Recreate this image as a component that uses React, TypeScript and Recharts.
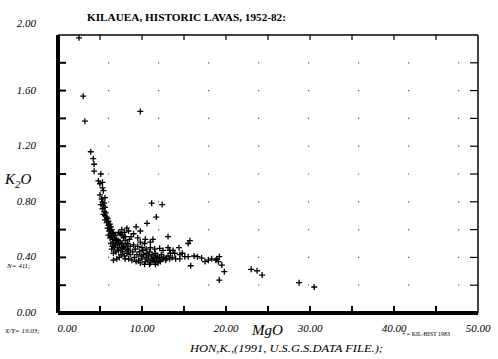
import React from 'react';
import { ScatterChart, Scatter, XAxis, YAxis, CartesianGrid, ReferenceLine } from 'recharts';

const X_TICKS = [0, 5, 10, 15, 20, 25, 30, 35, 40, 45, 50];
const Y_TICKS = [0, 0.2, 0.4, 0.6, 0.8, 1.0, 1.2, 1.4, 1.6, 1.8, 2.0];
const X_MAX = 50;
const Y_MAX = 2;

const OUTLIERS: [number, number][] = [[2.5, 1.98], [3.0, 1.56], [3.2, 1.38], [9.8, 1.45]];

const UPPER_BRANCH: [number, number][] = [
  [3.9, 1.16], [4.2, 1.11], [4.3, 1.07], [4.3, 1.02], [5.1, 1.0], [4.8, 0.95], [5.3, 0.94], [5.0, 0.93],
  [5.3, 0.9], [5.4, 0.88], [5.0, 0.85], [5.6, 0.83], [5.2, 0.82], [5.3, 0.8], [5.5, 0.79], [5.1, 0.78],
  [5.4, 0.77], [5.6, 0.76], [5.3, 0.75], [5.5, 0.73], [5.7, 0.72], [5.4, 0.71], [5.6, 0.7], [5.8, 0.69],
  [5.9, 0.68], [5.6, 0.67], [6.0, 0.66], [5.8, 0.65], [6.2, 0.64], [6.0, 0.63], [6.3, 0.62], [5.9, 0.61],
  [6.2, 0.6], [6.4, 0.6], [6.1, 0.59], [6.5, 0.58], [6.3, 0.57], [6.6, 0.57], [6.0, 0.56], [6.8, 0.56],
  [6.4, 0.55], [6.7, 0.54], [6.2, 0.54], [7.0, 0.53], [6.5, 0.53], [6.9, 0.52], [7.2, 0.52], [6.6, 0.51],
  [7.4, 0.51], [6.3, 0.5], [7.0, 0.5], [7.6, 0.5], [6.8, 0.49], [7.3, 0.49], [6.5, 0.48], [7.8, 0.48],
  [7.1, 0.47], [6.7, 0.47], [7.5, 0.46], [6.4, 0.46], [8.0, 0.46], [7.2, 0.45], [6.9, 0.44], [7.7, 0.44],
  [6.6, 0.43], [8.2, 0.43], [7.2, 0.58], [7.6, 0.56], [8.0, 0.52], [8.3, 0.5], [7.8, 0.54], [8.5, 0.53],
  [7.4, 0.57], [7.9, 0.58], [8.1, 0.49], [7.7, 0.47], [8.4, 0.45],
];

const SCATTERED_MID: [number, number][] = [
  [9.3, 0.62], [9.8, 0.59], [10.6, 0.645], [11.15, 0.79], [12.4, 0.78], [11.7, 0.69], [13.1, 0.55],
  [15.7, 0.52], [15.5, 0.5], [14.4, 0.47], [8.4, 0.59], [9.0, 0.57], [8.2, 0.61], [7.6, 0.6], [10.4, 0.53],
  [11.0, 0.51], [11.3, 0.53], [8.7, 0.55], [9.5, 0.54], [8.0, 0.55],
];

const LOW_CLUSTER: [number, number][] = [
  [8.0, 0.39], [8.4, 0.39], [8.6, 0.42], [8.9, 0.44], [9.1, 0.4], [9.4, 0.42], [9.2, 0.46], [9.6, 0.38],
  [9.7, 0.44], [9.9, 0.41], [10.0, 0.39], [10.2, 0.42], [10.1, 0.45], [10.4, 0.37], [10.5, 0.4], [10.6, 0.43],
  [10.7, 0.38], [10.8, 0.41], [10.9, 0.44], [11.0, 0.36], [11.1, 0.39], [11.2, 0.42], [11.3, 0.38], [11.4, 0.4],
  [11.5, 0.37], [11.6, 0.43], [11.7, 0.39], [11.8, 0.41], [11.9, 0.36], [12.0, 0.38], [12.1, 0.4], [12.2, 0.37],
  [12.3, 0.42], [12.4, 0.39], [12.6, 0.4], [12.8, 0.38], [12.9, 0.39], [13.1, 0.41], [13.3, 0.39], [13.6, 0.4],
  [14.0, 0.39], [14.5, 0.39], [9.3, 0.37], [9.8, 0.36], [10.3, 0.35], [10.9, 0.35], [11.6, 0.35], [8.8, 0.38],
  [9.0, 0.49], [9.5, 0.48], [10.0, 0.47], [10.5, 0.46], [11.0, 0.47], [11.5, 0.46], [12.1, 0.465], [12.5, 0.45],
  [13.1, 0.47], [13.3, 0.45], [13.7, 0.45], [10.3, 0.5], [9.8, 0.51], [8.6, 0.48], [8.3, 0.46], [7.9, 0.41],
  [7.5, 0.42], [7.3, 0.4], [6.6, 0.38], [7.0, 0.39],
];

const TAIL: [number, number][] = [
  [13.9, 0.43], [14.5, 0.42], [15.1, 0.405], [15.5, 0.405], [15.8, 0.34], [16.6, 0.405], [17.1, 0.395],
  [17.5, 0.37], [18.3, 0.39], [19.2, 0.405], [19.1, 0.37], [19.5, 0.345], [19.8, 0.297], [19.2, 0.237],
  [23.0, 0.314], [23.7, 0.304], [24.3, 0.273], [28.7, 0.218], [30.5, 0.187], [18.8, 0.38], [17.9, 0.38],
  [16.2, 0.41], [14.8, 0.43], [13.4, 0.43], [18.9, 0.39],
];

const data = [...OUTLIERS, ...UPPER_BRANCH, ...SCATTERED_MID, ...LOW_CLUSTER, ...TAIL].map(([mgo, k2o]) => ({ mgo, k2o }));

const SERIF = '"Liberation Serif", "DejaVu Serif", serif';
const INK = '#000008';

// plot frame edges (layout)
const PLOT_RIGHT = 478;
const PLOT_TOP = 35;

const Plus = (props: any) => {
  const { cx, cy } = props;
  if (cx == null || cy == null) return null;
  return <path d={`M${cx - 3},${cy}h6M${cx},${cy - 3}v6`} stroke="#000" strokeWidth={1.3} fill="none" />;
};

const LeftTick = (props: any) => {
  const x = Number(props.x), y = Number(props.y);
  const v = Number(props.payload.value);
  const labeled = Math.round(v * 10) % 4 === 0;
  const inner = v > 0 && v < Y_MAX;
  return (
    <g>
      {inner && <path d={`M${x},${y}H${x + 8}`} stroke={INK} strokeWidth={2} fill="none" />}
      {inner && <path d={`M${PLOT_RIGHT},${y}H${PLOT_RIGHT - 8}`} stroke={INK} strokeWidth={1.2} fill="none" />}
      {labeled && (
        <text x={36} y={y + (v === Y_MAX ? -12 : -1)} dy={4} textAnchor="end" fontSize={11} fontStyle="italic" fontFamily={SERIF} fill="#000">
          {v.toFixed(2)}
        </text>
      )}
    </g>
  );
};

const BottomTick = (props: any) => {
  const x = Number(props.x), y = Number(props.y);
  const v = Number(props.payload.value);
  const labeled = v % 10 === 0;
  const inner = v > 0 && v < X_MAX;
  return (
    <g>
      {inner && <path d={`M${x},${y}V${y - 7}`} stroke={INK} strokeWidth={2} fill="none" />}
      {inner && <path d={`M${x},${PLOT_TOP}V${PLOT_TOP + 5}`} stroke={INK} strokeWidth={1.2} fill="none" />}
      {labeled && (
        <text x={x + (v === 0 ? 9 : 0)} y={y + 19} textAnchor="middle" fontSize={11} fontStyle="italic" fontFamily={SERIF} fill="#000">
          {v.toFixed(2)}
        </text>
      )}
    </g>
  );
};

const GridDots = (props: any) => {
  const { x1, x2, y1 } = props;
  if (y1 == null || Math.abs(y1 - 35) < 1 || Math.abs(y1 - 313) < 1) return null;
  return <path d={`M${x1},${y1}H${x2}`} stroke="#555" strokeWidth={1.2} strokeDasharray="1.2 48.8" fill="none" />;
};

export default function App() {
  return (
    <div style={{ position: 'absolute', left: 0, top: 0, width: 498, height: 359, background: '#fff' }}>
      <ScatterChart width={498} height={359} margin={{ top: 35, right: 20, bottom: 0, left: 0 }}>
        <CartesianGrid vertical={false} horizontal={<GridDots />} />
        <XAxis
          dataKey="mgo" type="number" domain={[0, X_MAX]} ticks={X_TICKS} height={46}
          axisLine={{ stroke: INK, strokeWidth: 4 }} tickLine={false} tickSize={0} tickMargin={0}
          tick={<BottomTick />} interval={0}
        />
        <YAxis
          dataKey="k2o" type="number" domain={[0, Y_MAX]} ticks={Y_TICKS} width={58}
          axisLine={{ stroke: INK, strokeWidth: 4 }} tickLine={false} tickSize={0} tickMargin={0}
          tick={<LeftTick />} interval={0}
        />
        <ReferenceLine y={Y_MAX} stroke={INK} strokeWidth={1.5} ifOverflow="visible" />
        <ReferenceLine x={X_MAX} stroke={INK} strokeWidth={1.5} ifOverflow="visible" />
        <Scatter data={data} shape={<Plus />} isAnimationActive={false} />
      </ScatterChart>
      <svg width={498} height={359} style={{ position: 'absolute', left: 0, top: 0, pointerEvents: 'none' }}>
        <text x={87} y={21} fontSize={10} fontWeight="bold" fontFamily={SERIF} textLength={199} lengthAdjust="spacingAndGlyphs" fill="#000">
          KILAUEA, HISTORIC LAVAS, 1952-82:
        </text>
        <text x={5} y={184} fontSize={15} fontStyle="italic" fontFamily={SERIF} fill="#000">
          K<tspan fontSize={11} dy={4}>2</tspan><tspan dy={-4}>O</tspan>
        </text>
        <text x={252} y={335} fontSize={15} fontStyle="italic" fontFamily={SERIF} fill="#000">MgO</text>
        <text x={7} y={268} fontSize={7} fontStyle="italic" fontFamily={SERIF} fill="#000">N= 411;</text>
        <text x={5} y={333} fontSize={7} fontStyle="italic" fontFamily={SERIF} fill="#000">X/Y= 19.03;</text>
        <text x={190} y={352} fontSize={11} fontStyle="italic" fontFamily={SERIF} textLength={193} lengthAdjust="spacingAndGlyphs" fill="#000">
          HON,K.,(1991, U.S.G.S.DATA FILE.);
        </text>
        <text x={402} y={336} fontSize={6} fontFamily={SERIF} textLength={48} lengthAdjust="spacingAndGlyphs" fill="#000">
          + = KIL-HIST 1983
        </text>
      </svg>
    </div>
  );
}
